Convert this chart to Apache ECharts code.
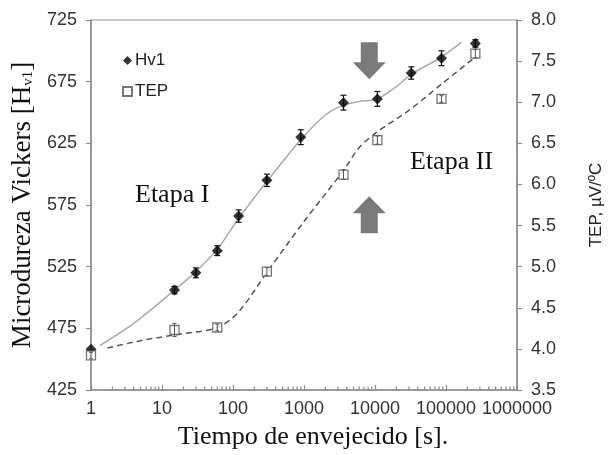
<!DOCTYPE html>
<html>
<head>
<meta charset="utf-8">
<script src="https://cdn.jsdelivr.net/npm/echarts@6/dist/echarts.min.js"></script>
<style>
  html, body { margin: 0; padding: 0; background: #fff; }
  #main { width: 613px; height: 455px; }
</style>
</head>
<body>
<div id="main"></div>
<script>
// Hardness measurements (aging time in s, Vickers hardness, error)
const hv1Time  = [1, 15, 30, 60, 120, 300, 900, 3600, 10800, 32400, 86400, 259200];
const hv1Value = [458, 506, 520, 538, 566, 595, 630, 658, 661, 682, 694, 706];
const hv1Error = [0, 3, 4, 4, 5, 5, 6, 6, 6, 5, 6, 3];

// Thermoelectric power measurements (µV/ºC)
const tepTime  = [1, 15, 60, 300, 3600, 10800, 86400, 259200];
const tepValue = [3.92, 4.23, 4.26, 4.94, 6.12, 6.54, 7.04, 7.59];
const tepError = [0.04, 0.08, 0.04, 0.05, 0.06, 0.05, 0.04, 0.05];

// Fitted trend curves
const hv1TrendTime  = [1.33, 4, 15, 30, 60, 120, 300, 900, 2000, 3600, 6000, 10800, 20000, 32400, 86400, 165000];
const hv1TrendValue = [461, 479, 506, 521, 539, 564, 594, 628, 648, 656, 659, 661, 671, 681, 695, 707];
const tepTrendTime  = [1.7, 5, 15, 60, 120, 300, 1000, 3600, 6000, 10800, 30000, 86400, 259200];
const tepTrendValue = [4.01, 4.1, 4.17, 4.26, 4.45, 4.93, 5.55, 6.17, 6.45, 6.64, 6.9, 7.22, 7.55];

// Axis ticks
const xTicks = [1, 10, 100, 1000, 10000, 100000, 1000000];
const leftTicks = [425, 475, 525, 575, 625, 675, 725];
const rightTicks = [3.5, 4.0, 4.5, 5.0, 5.5, 6.0, 6.5, 7.0, 7.5, 8.0];

// Minor ticks of the log axis (2..9 in every decade)
const minorTicks = [];
for (let d = 1; d < 1e6; d *= 10) {
  for (let k = 2; k <= 9; k++) minorTicks.push(d * k);
}

const pair = (xs, ys) => xs.map((x, i) => [x, ys[i]]);
const bars = (xs, ys, es) => xs.map((x, i) => [x, ys[i] - es[i], ys[i] + es[i]]).filter((d, i) => es[i] > 0);

function errorBar(capHalf, color, width) {
  return function (params, api) {
    const x = api.value(0);
    const lo = api.coord([x, api.value(1)]);
    const hi = api.coord([x, api.value(2)]);
    const style = { stroke: color, lineWidth: width, fill: null };
    return {
      type: 'group',
      children: [
        { type: 'line', shape: { x1: lo[0], y1: lo[1], x2: hi[0], y2: hi[1] }, style },
        { type: 'line', shape: { x1: lo[0] - capHalf, y1: lo[1], x2: lo[0] + capHalf, y2: lo[1] }, style },
        { type: 'line', shape: { x1: hi[0] - capHalf, y1: hi[1], x2: hi[0] + capHalf, y2: hi[1] }, style }
      ]
    };
  };
}

const axisGrey = '#8a8a8a';
const labelStyle = { fontFamily: '"Liberation Sans", Arial, sans-serif', fontSize: 18, color: '#333' };
const serif = '"Liberation Serif", "Times New Roman", serif';

const chart = echarts.init(document.getElementById('main'), null, { renderer: 'canvas' });

chart.setOption({
  animation: false,
  backgroundColor: '#fff',
  grid: { left: 91, right: 90, top: 20, bottom: 63, show: true, borderColor: '#9a9a9a', borderWidth: 1 },
  legend: {
    data: ['Hv1', 'TEP'],
    orient: 'vertical',
    left: 117,
    top: 47,
    itemWidth: 9,
    itemHeight: 9,
    itemGap: 14,
    textStyle: { fontFamily: '"Liberation Sans", Arial, sans-serif', fontSize: 17, color: '#222', padding: [0, 0, 0, -2] }
  },
  xAxis: {
    type: 'log',
    logBase: 10,
    min: 1,
    max: 1000000,
    axisLine: { lineStyle: { color: axisGrey, width: 1.5 } },
    axisTick: { inside: true, length: 5, lineStyle: { color: axisGrey, width: 1.2 } },
    axisLabel: Object.assign({ margin: 10, formatter: v => String(Math.round(v)) }, labelStyle),
    splitLine: { show: false },
    name: 'Tiempo de envejecido [s].',
    nameLocation: 'middle',
    nameGap: 34,
    nameTextStyle: { fontFamily: serif, fontSize: 26, color: '#111', padding: [0, 0, 0, 18] }
  },
  yAxis: [
    {
      type: 'value',
      min: 425,
      max: 725,
      position: 'left',
      axisLine: { show: true, lineStyle: { color: axisGrey, width: 1.5 } },
      axisTick: { show: true, length: 5, customValues: leftTicks, lineStyle: { color: axisGrey, width: 1.2 } },
      axisLabel: Object.assign({ margin: 14, customValues: leftTicks }, labelStyle),
      splitLine: { show: false },
      name: 'Microdureza Vickers [H{sub|v1}]',
      nameLocation: 'middle',
      nameRotate: 90,
      nameGap: 55,
      nameTextStyle: {
        fontFamily: serif, fontSize: 27, color: '#111',
        rich: { sub: { fontFamily: serif, fontSize: 15, color: '#111', verticalAlign: 'bottom', padding: [10, 0, 0, 0] } }
      }
    },
    {
      type: 'value',
      min: 3.5,
      max: 8.0,
      interval: 0.5,
      position: 'right',
      axisLine: { show: true, lineStyle: { color: axisGrey, width: 1.5 } },
      axisTick: { show: true, length: 5, lineStyle: { color: axisGrey, width: 1.2 } },
      axisLabel: Object.assign({ margin: 14, formatter: v => v.toFixed(1) }, labelStyle),
      splitLine: { show: false },
      name: 'TEP, µV/ºC',
      nameLocation: 'middle',
      nameRotate: 90,
      nameGap: 71,
      nameTextStyle: { fontFamily: '"Liberation Sans", Arial, sans-serif', fontSize: 17, color: '#222' }
    }
  ],
  series: [
    {
      name: 'minorTicks',
      type: 'custom',
      yAxisIndex: 0,
      silent: true,
      clip: false,
      data: minorTicks.map(v => [v, 425]),
      renderItem: (params, api) => {
        const p = api.coord([api.value(0), api.value(1)]);
        return { type: 'line', shape: { x1: p[0], y1: p[1], x2: p[0], y2: p[1] - 3.5 },
                 style: { stroke: axisGrey, lineWidth: 1.2 } };
      },
      z: 1
    },
    {
      name: 'Hv1 trend',
      type: 'line',
      yAxisIndex: 0,
      data: pair(hv1TrendTime, hv1TrendValue),
      smooth: 0.3,
      showSymbol: false,
      lineStyle: { color: '#aaaaaa', width: 1.5 },
      z: 2
    },
    {
      name: 'TEP trend',
      type: 'line',
      yAxisIndex: 1,
      data: pair(tepTrendTime, tepTrendValue),
      smooth: 0.3,
      showSymbol: false,
      lineStyle: { color: '#555555', width: 1.5, type: [6, 4] },
      z: 2
    },
    {
      name: 'Hv1 error',
      type: 'custom',
      yAxisIndex: 0,
      clip: false,
      data: bars(hv1Time, hv1Value, hv1Error),
      encode: { x: 0, y: [1, 2] },
      renderItem: errorBar(3, '#111', 1.2),
      z: 3
    },
    {
      name: 'Hv1',
      type: 'scatter',
      yAxisIndex: 0,
      clip: false,
      symbol: 'diamond',
      symbolSize: 11,
      itemStyle: { color: '#000' },
      data: pair(hv1Time, hv1Value),
      z: 4
    },
    {
      name: 'TEP',
      type: 'scatter',
      yAxisIndex: 1,
      clip: false,
      symbol: 'rect',
      symbolSize: 9,
      itemStyle: { color: '#fff', borderColor: '#555', borderWidth: 1.3 },
      data: pair(tepTime, tepValue),
      z: 4
    },
    {
      name: 'TEP error',
      type: 'custom',
      yAxisIndex: 1,
      clip: false,
      data: bars(tepTime, tepValue, tepError),
      encode: { x: 0, y: [1, 2] },
      renderItem: errorBar(2, '#555', 1),
      z: 5
    }
  ]
});

// Block arrows marking the transition between the two stages
const arrowTime = 8300;
function blockArrow(center, pointDown) {
  const w = 33, h = 37, shaft = 17, head = 17;
  const cx = center[0], top = center[1] - h / 2, s = pointDown ? 1 : -1;
  const y0 = pointDown ? top : top + h;
  const pts = [
    [cx - shaft / 2, y0],
    [cx + shaft / 2, y0],
    [cx + shaft / 2, y0 + s * (h - head)],
    [cx + w / 2, y0 + s * (h - head)],
    [cx, y0 + s * h],
    [cx - w / 2, y0 + s * (h - head)],
    [cx - shaft / 2, y0 + s * (h - head)]
  ];
  return { type: 'polygon', shape: { points: pts }, style: { fill: '#7a7a7a' }, z: 10 };
}
const upperArrow = chart.convertToPixel({ xAxisIndex: 0, yAxisIndex: 0 }, [arrowTime, 692]);
const lowerArrow = chart.convertToPixel({ xAxisIndex: 0, yAxisIndex: 0 }, [arrowTime, 567]);

chart.setOption({
  graphic: [
    blockArrow(upperArrow, true),
    blockArrow(lowerArrow, false),
    { type: 'text', left: 135, top: 182, z: 10,
      style: { text: 'Etapa I', font: '26px ' + serif, fill: '#111' } },
    { type: 'text', left: 410, top: 149, z: 10,
      style: { text: 'Etapa II', font: '26px ' + serif, fill: '#111' } }
  ]
});
</script>
</body>
</html>
